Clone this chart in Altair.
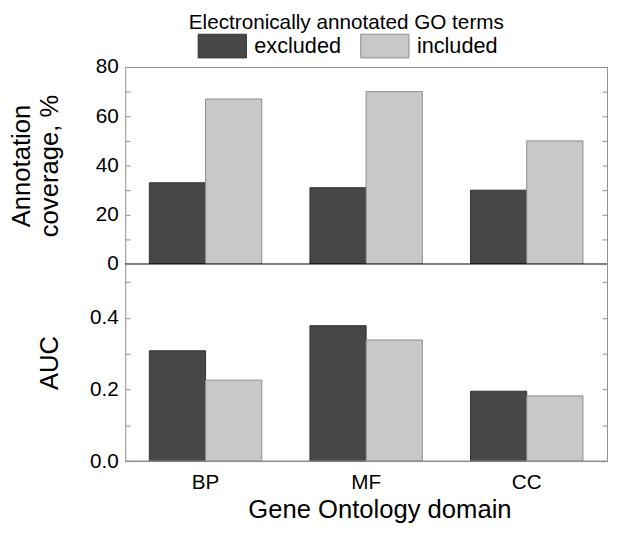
import altair as alt
import pandas as pd

domains = ["BP", "MF", "CC"]
series = ["excluded", "included"]
coverage_excluded = [33, 31, 30]
coverage_included = [67, 70, 50]
auc_excluded = [0.308, 0.378, 0.195]
auc_included = [0.226, 0.338, 0.182]
coverage_ticks = [0, 10, 20, 30, 40, 50, 60, 70, 80]
auc_ticks = [0.0, 0.1, 0.2, 0.3, 0.4, 0.5]

FONT = "Liberation Sans"
FRAME = "#8f8f8f"

cov = pd.DataFrame({
    "domain": domains * 2,
    "series": ["excluded"] * 3 + ["included"] * 3,
    "value": coverage_excluded + coverage_included,
})
auc = pd.DataFrame({
    "domain": domains * 2,
    "series": ["excluded"] * 3 + ["included"] * 3,
    "value": auc_excluded + auc_included,
})
zero = pd.DataFrame({"value": [0]})

fill_scale = alt.Scale(domain=series, range=["#474747", "#c8c8c8"])
stroke_scale = alt.Scale(domain=series, range=["#333333", "#8a8a8a"])
x_scale = alt.Scale(domain=domains, paddingInner=0.3, paddingOuter=0.15)

legend = alt.Legend(
    orient="none", legendX=86, legendY=-34, direction="horizontal", title=None,
    symbolType="M-2.04,-1H2.04V1H-2.04Z", symbolSize=576,
    symbolStrokeColor="#555555", symbolStrokeWidth=1,
    labelFontSize=22, labelFont=FONT, labelOffset=20, columnPadding=17,
    padding=0,
)

W, H = 489, 200


def right_axis(values):
    return alt.Axis(orient="right", values=values, labels=False, domain=False,
                    grid=False, ticks=True, tickSize=5, offset=-5,
                    tickColor=FRAME, title=None)


def panel(df, domain_max, ticks, left_axis, x_axis, zero_color):
    yscale = alt.Scale(domain=[0, domain_max], nice=False, zero=True)
    bars = alt.Chart(df).mark_bar(strokeWidth=1).encode(
        x=alt.X("domain:N", scale=x_scale, axis=x_axis, sort=domains),
        xOffset=alt.XOffset("series:N", sort=series),
        y=alt.Y("value:Q", scale=yscale, axis=left_axis),
        fill=alt.Fill("series:N", scale=fill_scale, legend=legend),
        stroke=alt.Stroke("series:N", scale=stroke_scale, legend=None),
    )
    rule = alt.Chart(zero).mark_rule(color=zero_color, strokeWidth=1.2).encode(
        y=alt.Y("value:Q", scale=yscale, axis=right_axis(ticks)),
    )
    return alt.layer(bars, rule).properties(width=W, height=H)


top_axis = alt.Axis(
    orient="left",
    values=coverage_ticks, labelExpr="datum.value % 20 === 0 ? datum.label : ''",
    grid=False, domain=False, tickSize=5, offset=-5, tickColor=FRAME,
    labelFontSize=21, labelFont=FONT, labelPadding=7, labelColor="black",
    labelFlush=False,
    title=["Annotation", "coverage, %"], titleFontSize=26, titleFont=FONT,
    titleFontWeight="normal", titleLineHeight=28, titleBaseline="alphabetic",
    titleAngle=270, titleAlign="center", titleX=-102, titleY=100,
    titleColor="black",
)
bottom_axis = alt.Axis(
    orient="left",
    values=auc_ticks,
    labelExpr="round(datum.value * 10) % 2 === 0 ? format(datum.value, '.1f') : ''",
    grid=False, domain=False, tickSize=5, offset=-5, tickColor=FRAME,
    labelFontSize=21, labelFont=FONT, labelPadding=7, labelColor="black",
    labelFlush=False,
    title="AUC", titleFontSize=26, titleFont=FONT, titleFontWeight="normal",
    titleBaseline="alphabetic", titleAngle=270, titleAlign="center",
    titleX=-74, titleY=100, titleColor="black",
)
x_axis = alt.Axis(
    labelAngle=0, ticks=False, tickSize=0, domain=False, grid=False,
    labelFontSize=21, labelFont=FONT, labelPadding=11, labelColor="black",
    title="Gene Ontology domain", titleFontSize=26, titleFont=FONT,
    titleFontWeight="normal", titleBaseline="alphabetic", titleAlign="center",
    titleX=258, titleY=57, titleColor="black",
)

top = panel(cov, 80, coverage_ticks, top_axis, None, "black")
bottom = panel(auc, 0.55, auc_ticks, bottom_axis, x_axis, FRAME)

chart = alt.vconcat(top, bottom, spacing=0, bounds="flush").properties(
    title=alt.TitleParams(
        "Electronically annotated GO terms", fontSize=21, font=FONT,
        fontWeight="normal", anchor="start", dx=183, offset=0.7, color="black",
    ),
    padding=0,
).configure_view(stroke=FRAME, strokeWidth=1).configure_legend(
    labelColor="black",
)

chart.save("out.html", embed_options={"renderer": "svg", "actions": False})
